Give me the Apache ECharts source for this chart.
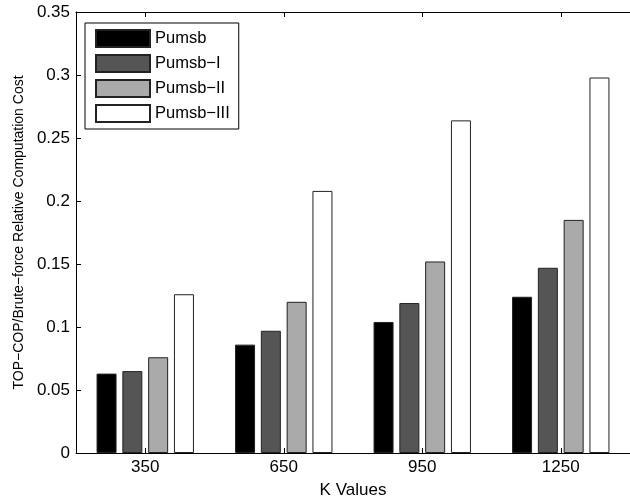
<!DOCTYPE html>
<html>
<head>
<meta charset="utf-8">
<script src="https://cdn.jsdelivr.net/npm/echarts@6/dist/echarts.min.js"></script>
<style>
  html, body { margin: 0; padding: 0; background: #fff; }
  #main { width: 630px; height: 504px; }
</style>
</head>
<body>
<div id="main"></div>
<script>
// K values on the x axis
var categories = ["350", "650", "950", "1250"];

// relative computation cost
var pumsb = [0.063, 0.086, 0.104, 0.124];
var pumsbI = [0.065, 0.097, 0.119, 0.147];
var pumsbII = [0.076, 0.120, 0.152, 0.185];
var pumsbIII = [0.126, 0.208, 0.264, 0.298];

var seriesNames = ["Pumsb", "Pumsb\u2212I", "Pumsb\u2212II", "Pumsb\u2212III"];
var seriesColors = ["#000000", "#555555", "#aaaaaa", "#ffffff"];

var font = "Liberation Sans, Arial, Helvetica, sans-serif";

var chartDom = document.getElementById("main");
var myChart = echarts.init(chartDom);

var tickStyle = { show: true, inside: true, length: 5, lineStyle: { color: "#000" } };

var option = {
  animation: false,
  backgroundColor: "#fff",
  textStyle: { fontFamily: font },
  grid: { left: 76, top: 12, width: 561, height: 442 },
  legend: {
    orient: "vertical",
    left: 85,
    top: 23,
    padding: [6, 9, 6, 10],
    icon: "rect",
    itemWidth: 54,
    itemHeight: 17,
    itemGap: 6,
    borderColor: "#000",
    borderWidth: 1,
    backgroundColor: "#fff",
    textStyle: { fontFamily: font, fontSize: 16.5, color: "#000" },
    data: seriesNames
  },
  xAxis: [
    {
      type: "category",
      data: categories,
      position: "bottom",
      name: "K Values",
      nameLocation: "middle",
      nameGap: 29,
      nameTextStyle: { fontFamily: font, fontSize: 17, color: "#000" },
      axisLine: { lineStyle: { color: "#000" } },
      axisTick: Object.assign({ alignWithLabel: true }, tickStyle),
      axisLabel: { fontFamily: font, fontSize: 17, color: "#000", margin: 6 },
      splitLine: { show: false }
    },
    {
      type: "category",
      data: categories,
      position: "top",
      axisLine: { lineStyle: { color: "#000" } },
      axisTick: Object.assign({ alignWithLabel: true }, tickStyle),
      axisLabel: { show: false },
      splitLine: { show: false }
    }
  ],
  yAxis: {
    type: "value",
    min: 0,
    max: 0.35,
    interval: 0.05,
    name: "TOP\u2212COP/Brute\u2212force Relative Computation Cost",
    nameLocation: "middle",
    nameGap: 47,
    nameTextStyle: { fontFamily: font, fontSize: 14, color: "#000" },
    axisLine: { show: true, lineStyle: { color: "#000" } },
    axisTick: tickStyle,
    axisLabel: { fontFamily: font, fontSize: 17, color: "#000", margin: 6 },
    splitLine: { show: false }
  },
  series: [pumsb, pumsbI, pumsbII, pumsbIII].map(function (values, i) {
    return {
      name: seriesNames[i],
      type: "bar",
      data: values,
      barWidth: 20,
      barGap: "29%",
      itemStyle: { color: seriesColors[i], borderColor: "#222", borderWidth: 1 }
    };
  })
};

option && myChart.setOption(option);
</script>
</body>
</html>
